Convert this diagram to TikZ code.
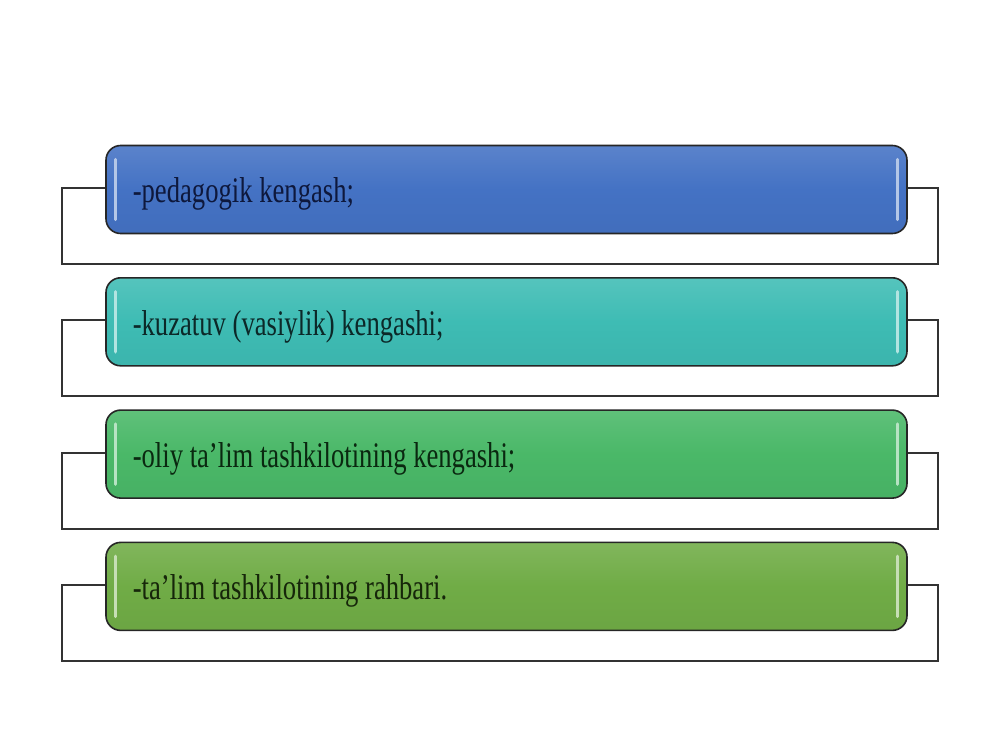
\documentclass[tikz,border=0pt]{standalone}
\usepackage{fontspec}
\setmainfont{Liberation Serif}[FakeStretch=0.74]
\begin{document}
\begin{tikzpicture}[x=0.75pt,y=-0.75pt,
  frame/.style={draw=black!80, line width=1.4pt, fill=white},
  box/.style={draw=black!85, line width=1.2pt, rounded corners=11pt,
    minimum width=600.75pt, minimum height=66pt, inner sep=0pt},
  lbl/.style={font=\fontsize{27pt}{30pt}\selectfont, anchor=base west, inner sep=0pt},
  shine/.style={line width=2.4pt, line cap=round}
]
\useasboundingbox (0,0) rectangle (1000,750);
\fill[white] (0,0) rectangle (1000,750);
\definecolor{cA}{RGB}{68,114,196}
\definecolor{cB}{RGB}{62,188,180}
\definecolor{cC}{RGB}{74,184,104}
\definecolor{cD}{RGB}{112,172,70}
\definecolor{tA}{RGB}{14,24,60}
\definecolor{tB}{RGB}{12,40,40}
\definecolor{tC}{RGB}{10,40,16}
\definecolor{tD}{RGB}{22,38,10}
\foreach \i/\c/\t/\s in {0/cA/tA/{-pedagogik kengash;},
                       1/cB/tB/{-kuzatuv (vasiylik) kengashi;},
                       2/cC/tC/{-oliy ta’lim tashkilotining kengashi;},
                       3/cD/tD/{-ta’lim tashkilotining rahbari.}}{
  \pgfmathsetmacro{\top}{145+132.3*\i}
  \draw[frame] (62,\top+43) rectangle (938,\top+119);
  \node[box, top color=\c!88!white, bottom color=\c!96!black, middle color=\c] (b\i) at (506.5,\top+44.5) {};
  \draw[shine, \c!40!white] ([xshift=7.5pt,yshift=-11pt]b\i.north west) -- ([xshift=7.5pt,yshift=11pt]b\i.south west);
  \draw[shine, \c!40!white] ([xshift=-7.5pt,yshift=-11pt]b\i.north east) -- ([xshift=-7.5pt,yshift=11pt]b\i.south east);
  \node[lbl, text=\t] (t\i) at ([xshift=20.5pt,yshift=-10pt]b\i.west) {\s};
}
\end{tikzpicture}
\end{document}
